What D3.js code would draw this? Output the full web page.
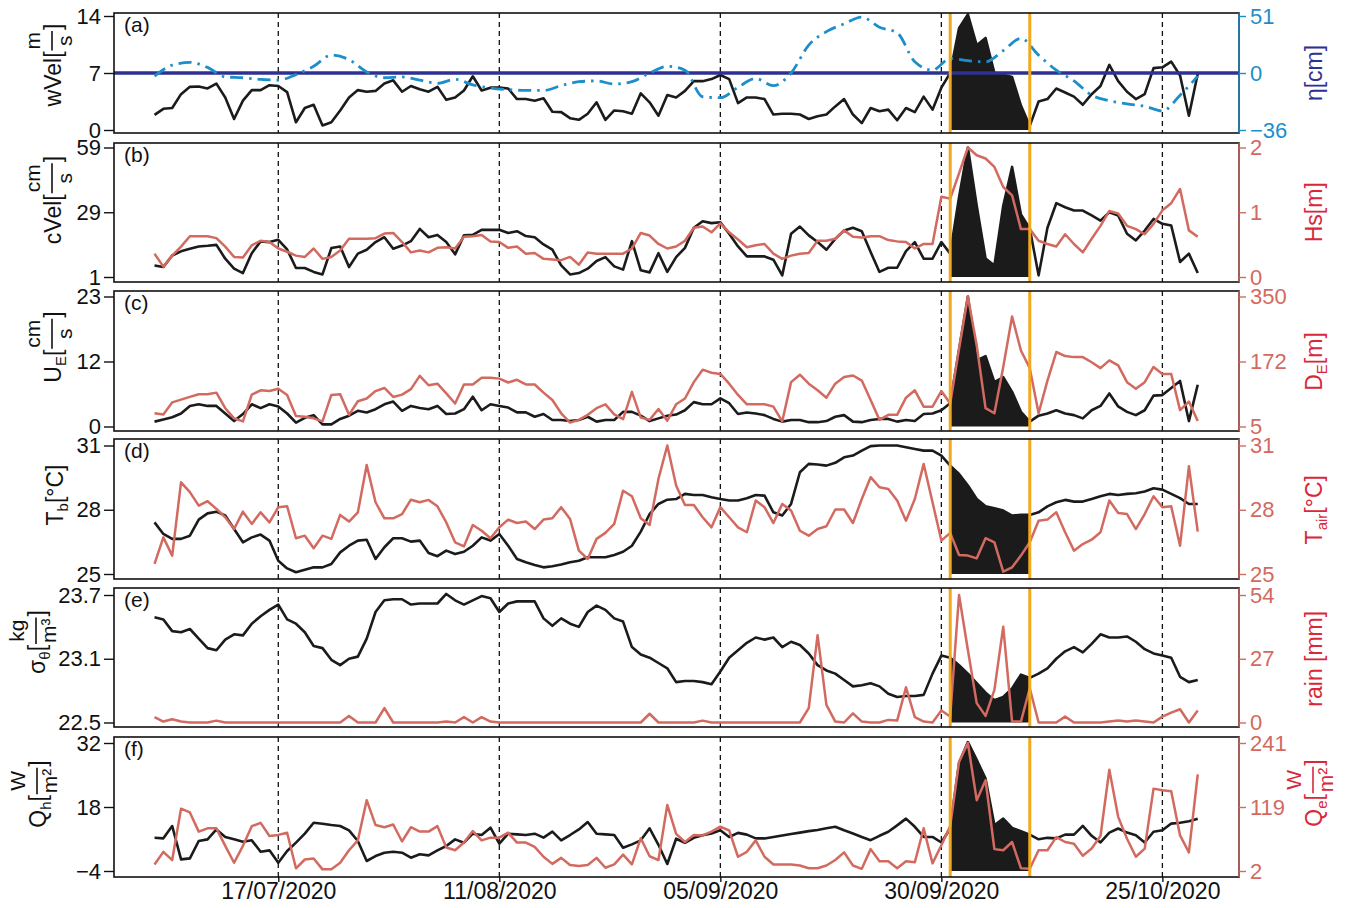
<!DOCTYPE html>
<html>
<head>
<meta charset="utf-8">
<title>Event time series</title>
<script src="https://cdn.jsdelivr.net/npm/d3@7"></script>
<style>
  body { margin: 0; background: #fff; }
  svg text { font-family: "Liberation Sans", Arial, Helvetica, sans-serif; }
</style>
</head>
<body>
<svg id="chart" width="1354" height="908"></svg>
<script>
// daily values 03/07/2020 .. 29/10/2020
const firstDay = new Date(Date.UTC(2020, 6, 3));
const days = d3.range(119).map(i => d3.utcDay.offset(firstDay, i));
// sea level read every second day
const etaDays = days.filter((d, i) => i % 2 === 0);

const tickDates = ["2020-07-17", "2020-08-11", "2020-09-05", "2020-09-30", "2020-10-25"].map(s => new Date(s + "T00:00:00Z"));
const eventDates = [new Date("2020-10-01T00:00:00Z"), new Date("2020-10-10T00:00:00Z")];

const wVel = [1.85, 2.6, 2.7, 4.4, 5.3, 5.35, 5.1, 5.7, 4.0, 1.35,
  3.6, 4.9, 4.9, 5.5, 5.4, 4.65, 0.95, 2.7, 3.1, 0.55,
  0.95, 2.4, 4.0, 4.9, 4.7, 4.8, 5.7, 6.1, 4.7, 5.4,
  5.0, 4.7, 5.3, 3.7, 4.0, 4.85, 6.6, 4.85, 5.2, 5.2,
  5.1, 3.8, 3.8, 3.6, 3.9, 2.25, 2.2, 1.45, 1.25, 2.0,
  3.4, 1.25, 2.4, 2.3, 2.0, 4.5, 3.4, 1.75, 4.3, 4.0,
  4.8, 6.0, 6.0, 6.25, 6.75, 6.25, 3.3, 4.0, 4.0, 3.8,
  1.9, 2.0, 2.0, 1.9, 1.35, 1.7, 1.9, 2.9, 3.8, 1.9,
  0.85, 2.7, 2.3, 2.5, 1.2, 2.7, 2.2, 4.1, 2.5, 5.2,
  7.0, 12.5, 14.2, 10.4, 11.3, 7.0, 6.8, 6.5, 3.0, 0.5,
  3.5, 3.8, 5.1, 4.6, 4.1, 3.1, 4.4, 5.4, 8.0, 6.0,
  4.7, 3.8, 4.4, 7.6, 7.7, 8.4, 6.7, 1.75, 6.9];
const eta = [-2, 7, 9.5, 5, -2.5, -3, -4, -4.5, -1, 6,
  16, 12, 1, -3, -2.5, -4.5, -6.5, -4, -7.5, -9.5,
  -10.5, -11, -11, -8, -5.5, -5, -7, -5.5, 0, 6,
  2.5, -15, -15.6, -9, -3.5, -8, 0, 25, 37, 44,
  50, 41, 36, 10, 2.5, 13, 11, 10, 20, 31,
  16, 2.5, -5, -14, -17.5, -19.5, -21, -24, -14, -2];
const cVel = [6.0, 5.3, 10.3, 12.1, 13.2, 14.2, 14.5, 14.9, 8.9, 4.6,
  2.7, 11.3, 16.4, 16.1, 17.1, 12.9, 4.9, 4.9, 3.2, 2.1,
  13.5, 14.2, 5.3, 11.1, 12.8, 16.1, 18.2, 13.2, 14.6, 16.5,
  21.8, 18.2, 19.2, 16.1, 10.8, 19.0, 19.2, 21.4, 21.4, 21.4,
  20.0, 20.8, 18.7, 18.2, 15.1, 12.8, 6.0, 2.1, 2.7, 4.6,
  7.9, 9.6, 5.6, 4.2, 16.5, 3.9, 3.0, 11.3, 3.2, 9.6,
  13.6, 22.3, 25.1, 24.3, 24.7, 19.7, 14.2, 9.9, 9.9, 9.9,
  8.5, 1.7, 19.7, 22.8, 19.0, 16.1, 12.8, 17.5, 21.1, 22.3,
  20.8, 11.8, 3.2, 5.0, 5.0, 12.2, 16.1, 8.9, 8.9, 16.1,
  11.1, 36, 59, 32, 9, 6, 32, 50, 28, 22,
  1.7, 22.3, 33.2, 31.3, 29.8, 29.8, 27.6, 25.4, 29, 27.6,
  19.7, 16.8, 21.1, 26.1, 24.0, 23.3, 7.5, 11.1, 2.7];
const hs = [0.36, 0.16, 0.33, 0.47, 0.63, 0.63, 0.63, 0.60, 0.47, 0.31,
  0.30, 0.49, 0.56, 0.54, 0.44, 0.39, 0.33, 0.31, 0.44, 0.28,
  0.31, 0.41, 0.59, 0.59, 0.59, 0.60, 0.67, 0.68, 0.54, 0.38,
  0.41, 0.38, 0.45, 0.46, 0.44, 0.62, 0.63, 0.65, 0.55, 0.54,
  0.45, 0.47, 0.36, 0.37, 0.28, 0.27, 0.26, 0.31, 0.19, 0.38,
  0.36, 0.36, 0.36, 0.36, 0.44, 0.68, 0.64, 0.51, 0.44, 0.47,
  0.56, 0.76, 0.78, 0.69, 0.83, 0.69, 0.58, 0.46, 0.49, 0.51,
  0.36, 0.28, 0.33, 0.36, 0.37, 0.56, 0.56, 0.59, 0.72, 0.62,
  0.61, 0.63, 0.63, 0.57, 0.55, 0.54, 0.44, 0.51, 0.51, 1.24,
  1.21, 1.60, 2.0, 1.88, 1.83, 1.70, 1.39, 1.26, 0.74, 0.74,
  0.56, 0.51, 0.47, 0.66, 0.51, 0.38, 0.59, 0.79, 1.02, 0.98,
  0.79, 0.74, 0.66, 0.82, 1.03, 1.14, 1.36, 0.72, 0.62];
const uE = [0.9, 1.3, 1.7, 2.4, 3.8, 4.1, 3.8, 3.8, 2.4, 1.0,
  2.3, 4.1, 3.4, 4.1, 3.7, 2.4, 0.7, 1.6, 2.1, 0.4,
  0.4, 1.4, 2.0, 2.9, 2.6, 3.2, 4.1, 4.6, 2.9, 3.8,
  3.4, 3.2, 3.8, 2.3, 2.4, 3.2, 5.5, 3.0, 4.1, 3.8,
  3.5, 2.6, 2.6, 1.8, 2.3, 1.2, 1.2, 1.0, 1.2, 1.8,
  0.9, 1.2, 1.2, 2.7, 2.7, 2.0, 1.0, 1.5, 2.0, 2.2,
  3.0, 4.5, 4.1, 4.1, 5.2, 4.3, 2.3, 2.6, 2.4, 2.1,
  1.4, 0.9, 1.2, 1.2, 0.8, 0.8, 1.0, 1.8, 2.1, 0.9,
  0.8, 1.2, 1.4, 1.4, 0.9, 1.2, 1.0, 2.3, 2.4, 3.0,
  4.3, 14, 23, 12.2, 12.9, 8.2, 9.1, 6.4, 2.7, 0.9,
  2.0, 2.4, 3.0, 2.4, 2.1, 1.5, 3.0, 3.8, 6.1, 3.7,
  2.7, 2.1, 3.0, 5.7, 5.8, 7.1, 8.4, 1.0, 7.7];
const dE = [39, 36, 67, 74, 81, 88, 88, 92, 52, 26,
  18, 87, 98, 96, 102, 86, 32, 30, 26, 18,
  86, 88, 35, 70, 77, 96, 104, 81, 87, 101,
  135, 111, 115, 90, 64, 113, 113, 130, 130, 128,
  118, 125, 113, 113, 92, 73, 39, 15, 22, 35,
  52, 62, 36, 24, 94, 28, 22, 50, 20, 62,
  77, 119, 151, 143, 140, 115, 86, 62, 62, 62,
  56, 18, 119, 138, 115, 98, 79, 115, 132, 136,
  123, 73, 22, 35, 35, 79, 98, 56, 56, 96,
  64, 207, 350, 216, 52, 39, 158, 295, 202, 155,
  39, 123, 198, 187, 184, 184, 170, 155, 175, 162,
  119, 102, 119, 158, 140, 140, 47, 69, 19];
const tB = [27.41, 26.87, 26.64, 26.64, 26.79, 27.54, 27.83, 27.91, 27.73, 27.10,
  26.48, 26.71, 26.84, 26.56, 25.62, 25.26, 25.08, 25.20, 25.31, 25.31,
  25.47, 26.01, 26.32, 26.56, 26.60, 25.70, 26.25, 26.67, 26.67, 26.51,
  26.56, 25.98, 25.83, 26.09, 25.93, 26.04, 26.32, 26.71, 26.56, 26.87,
  26.32, 25.70, 25.55, 25.42, 25.31, 25.36, 25.44, 25.55, 25.62, 25.78,
  25.78, 25.78, 25.89, 26.04, 26.32, 26.98, 27.80, 28.27, 28.47, 28.50,
  28.74, 28.69, 28.69, 28.58, 28.50, 28.43, 28.43, 28.54, 28.69, 28.66,
  27.88, 27.73, 28.27, 29.75, 30.14, 30.11, 30.06, 30.19, 30.45, 30.53,
  30.76, 30.97, 31.0, 31.0, 31.0, 30.92, 30.84, 30.76, 30.76, 30.53,
  30.06, 29.67, 29.13, 28.50, 28.16, 28.07, 27.96, 27.73, 27.76, 27.76,
  27.88, 28.16, 28.35, 28.46, 28.38, 28.38, 28.50, 28.63, 28.74, 28.69,
  28.74, 28.77, 28.85, 29.00, 28.94, 28.74, 28.54, 28.27, 28.27];
const tAir = [25.47, 26.71, 25.86, 29.28, 28.82, 28.19, 28.40, 28.04, 27.65, 27.10,
  27.91, 27.34, 27.88, 27.41, 28.12, 28.16, 26.67, 26.79, 26.20, 26.79,
  26.64, 27.76, 27.45, 27.88, 30.09, 28.35, 27.60, 27.60, 27.80, 28.47,
  28.35, 28.46, 28.16, 27.41, 26.48, 26.29, 27.29, 27.02, 26.67, 27.18,
  27.54, 27.38, 27.45, 27.10, 27.54, 27.60, 28.12, 27.57, 26.09, 25.70,
  26.64, 26.92, 27.34, 28.89, 28.63, 27.60, 27.29, 29.44, 31.0, 29.13,
  28.22, 28.22, 27.65, 27.18, 28.12, 27.65, 27.18, 26.95, 28.43, 28.12,
  27.38, 28.27, 27.96, 27.02, 26.79, 27.10, 27.23, 28.01, 28.01, 27.38,
  28.50, 29.52, 29.05, 28.97, 28.43, 27.49, 28.50, 30.14, 28.35, 26.56,
  26.92, 25.89, 25.86, 25.73, 26.67, 26.48, 25.11, 25.31, 25.86, 26.48,
  27.49, 27.54, 27.88, 26.95, 26.09, 26.40, 26.60, 26.95, 28.43, 27.85,
  27.80, 27.10, 27.80, 28.63, 28.12, 28.16, 26.32, 30.03, 26.98];
const sigma = [23.49, 23.47, 23.36, 23.35, 23.38, 23.29, 23.20, 23.18, 23.28, 23.33,
  23.32, 23.43, 23.50, 23.56, 23.61, 23.47, 23.43, 23.35, 23.22, 23.20,
  23.09, 23.04, 23.10, 23.12, 23.29, 23.54, 23.65, 23.66, 23.66, 23.61,
  23.62, 23.62, 23.62, 23.71, 23.65, 23.61, 23.65, 23.69, 23.67, 23.54,
  23.62, 23.64, 23.64, 23.64, 23.48, 23.41, 23.48, 23.43, 23.40, 23.54,
  23.60, 23.56, 23.48, 23.45, 23.21, 23.14, 23.11, 23.06, 23.01, 22.88,
  22.89, 22.89, 22.88, 22.86, 22.98, 23.11, 23.18, 23.25, 23.30, 23.28,
  23.30, 23.21, 23.26, 23.23, 23.15, 23.04, 22.99, 22.96, 22.90, 22.84,
  22.85, 22.87, 22.84, 22.77, 22.74, 22.75, 22.75, 22.76, 22.96, 23.13,
  23.11, 23.04, 22.96, 22.87, 22.78, 22.71, 22.74, 22.82, 22.95, 22.92,
  22.96, 23.01, 23.10, 23.17, 23.21, 23.16, 23.24, 23.33, 23.30, 23.30,
  23.31, 23.26, 23.19, 23.15, 23.13, 23.11, 22.93, 22.88, 22.90];
const rain = [2.3, 0.4, 1.4, 0.4, 0, 0, 0, 0.8, 0, 0,
  0, 0, 0, 0, 0, 0, 0, 0, 0, 0,
  0, 0, 2.8, 0, 0, 0, 6.1, 0, 0, 0,
  0, 0, 0, 0.4, 0, 2.3, 0, 2.3, 0.4, 0,
  0, 0, 0, 0, 0, 0, 0, 0, 0, 0,
  0, 0, 0, 0, 0, 0, 3.7, 0, 0, 0,
  0, 0, 0.8, 0, 0, 0, 0, 0, 0, 0,
  0, 0, 0, 0, 6.1, 37, 7.5, 0.4, 0, 3.9,
  0.4, 0, 0, 1.1, 0.8, 14.9, 2.3, 0.4, 0, 5.1,
  2.5, 54, 30.7, 8.2, 2.8, 13.8, 40.6, 0.4, 0.4, 14.5,
  0, 0, 0, 2.5, 0, 0, 0, 0, 0.4, 0.8,
  0.4, 0.8, 0.4, 0, 2.5, 4.2, 5.6, 0, 5.1];
const qH = [7.45, 7.23, 11.46, 0.0, 0.35, 6.31, 6.88, 10.3, 7.68, 6.88,
  6.08, 6.54, 2.64, 3.10, -1.14, 2.87, 5.74, 8.83, 12.6, 12.27,
  11.8, 11.46, 9.97, 6.31, -0.56, 1.15, 2.3, 2.64, 2.3, 0.58,
  1.73, 1.38, 3.1, 4.59, 6.88, 5.74, 8.83, 8.37, 10.9, 5.39,
  8.83, 8.6, 8.37, 8.83, 7.45, 9.52, 6.54, 8.37, 10.3, 12.84,
  8.83, 8.6, 8.37, 4.02, 5.16, 6.54, 10.66, 5.0, -1.6, 7.1,
  5.7, 7.4, 8.3, 8.9, 10.0, 7.7, 9.1, 8.5, 7.2, 7.2,
  7.7, 8.2, 8.7, 9.2, 9.7, 10.1, 10.7, 11.2, 10.0, 8.9,
  7.7, 6.6, 8.1, 9.5, 11.7, 14.0, 11.2, 7.7, 7.7, 5.8,
  10.6, 27.6, 32.2, 28.3, 24.2, 11.7, 14.0, 10.8, 9.7, 8.5,
  6.9, 7.4, 7.2, 8.5, 8.5, 11.5, 8.1, 5.8, 9.2, 10.6,
  9.2, 8.3, 5.8, 9.5, 10.0, 12.3, 12.6, 13.1, 14.0];
const qE = [14, 37, 22, 116, 109, 74, 80, 80, 48, 17,
  48, 84, 90, 66, 68, 72, 7, 23, 25, 5,
  5, 17, 40, 58, 132, 86, 82, 87, 56, 82,
  74, 74, 84, 45, 40, 54, 75, 58, 63, 63,
  72, 54, 54, 46, 28, 15, 26, 13, 11, 13,
  26, 8, 14, 32, 14, 62, 29, 22, 123, 70,
  55, 68, 67, 74, 83, 76, 28, 37, 58, 28,
  14, 14, 14, 12, 7, 7, 12, 22, 36, 12,
  6, 42, 20, 20, 7, 20, 18, 80, 16, 49,
  84, 205, 241, 132, 170, 42, 40, 55, 7, 6,
  40, 40, 64, 55, 52, 30, 43, 66, 190, 101,
  61, 28, 43, 154, 151, 149, 67, 36, 181];

// tick values: bottom, middle, top of every axis
const wVelTicks = [0, 7, 14], etaTicks = [-36, 0, 51];
const cVelTicks = [1, 29, 59], hsTicks = [0, 1, 2];
const uETicks = [0, 12, 23], dETicks = [5, 172, 350];
const tBTicks = [25, 28, 31], tAirTicks = [25, 28, 31];
const sigmaTicks = [22.5, 23.1, 23.7], rainTicks = [0, 27, 54];
const qHTicks = [-4, 18, 32], qETicks = [2, 119, 241];

const BLACK = "#1b1b1b", SALMON = "#d26a60", RED = "#d8283a",
      CYAN = "#1e8ecb", NAVY = "#2e3192", ORANGE = "#f2a81d";

const svg = d3.select("#chart");
const X0 = 114, X1 = 1239;
const x = d3.scaleUtc()
  .domain([new Date(Date.UTC(2020, 5, 28, 10)), new Date(Date.UTC(2020, 10, 2, 16))])
  .range([X0, X1]);

const panels = [
  {tag: "(a)", top: 13, bottom: 133, y0: 130, y1: 16,
   left: wVel, lt: wVelTicks, right: eta, rDays: etaDays, rt: etaTicks, rColor: CYAN,
   lTitle: [{t: "wVel["}, {num: "m", den: "s"}, {t: "]"}], lx: 61, ly: 65,
   rTitle: [{t: "η[cm]"}], rTitleColor: NAVY},
  {tag: "(b)", top: 143, bottom: 282, y0: 277, y1: 147.5,
   left: cVel, lt: cVelTicks, right: hs, rt: hsTicks, rColor: SALMON,
   lTitle: [{t: "cVel["}, {num: "cm", den: "s"}, {t: "]"}], lx: 61, ly: 200,
   rTitle: [{t: "Hs[m]"}], rTitleColor: RED},
  {tag: "(c)", top: 291, bottom: 431, y0: 426.5, y1: 296.5,
   left: uE, lt: uETicks, right: dE, rt: dETicks, rColor: SALMON,
   lTitle: [{t: "U"}, {sub: "E"}, {t: "["}, {num: "cm", den: "s"}, {t: "]"}], lx: 61, ly: 347,
   rTitle: [{t: "D"}, {sub: "E"}, {t: "[m]"}], rTitleColor: RED},
  {tag: "(d)", top: 439, bottom: 579, y0: 574, y1: 445.5,
   left: tB, lt: tBTicks, right: tAir, rt: tAirTicks, rColor: SALMON,
   lTitle: [{t: "T"}, {sub: "b"}, {t: "[°C]"}], lx: 63, ly: 495,
   rTitle: [{t: "T"}, {sub: "air"}, {t: "[°C]"}], rTitleColor: RED},
  {tag: "(e)", top: 588, bottom: 727, y0: 722.5, y1: 595,
   left: sigma, lt: sigmaTicks, right: rain, rt: rainTicks, rColor: SALMON,
   lTitle: [{t: "σ"}, {sub: "θ"}, {t: "["}, {num: "kg", den: "m³"}, {t: "]"}], lx: 45, ly: 642,
   rTitle: [{t: "rain [mm]"}], rTitleColor: RED},
  {tag: "(f)", top: 737, bottom: 877, y0: 871, y1: 743,
   left: qH, lt: qHTicks, right: qE, rt: qETicks, rColor: SALMON,
   lTitle: [{t: "Q"}, {sub: "h"}, {t: "["}, {num: "W", den: "m²"}, {t: "]"}], lx: 46, ly: 794,
   rTitle: [{t: "Q"}, {sub: "e"}, {t: "["}, {num: "W", den: "m²"}, {t: "]"}], rTitleColor: RED}
];

function axisTitle(x0, yc, parts, color) {
  const fs = 23;
  const g = svg.append("g").attr("transform", `translate(${x0},${yc}) rotate(-90)`);
  const inner = g.append("g");
  let cx = 0;
  parts.forEach(p => {
    if (p.num !== undefined) {
      const n = inner.append("text").attr("font-size", 21).attr("fill", color).attr("y", -21).text(p.num);
      const dn = inner.append("text").attr("font-size", 21).attr("fill", color).attr("y", 11).text(p.den);
      const wn = n.node().getComputedTextLength(), wd = dn.node().getComputedTextLength();
      const w = Math.max(wn, wd) + 4;
      n.attr("x", cx + (w - wn) / 2);
      dn.attr("x", cx + (w - wd) / 2);
      inner.append("line").attr("x1", cx + 1).attr("x2", cx + w - 1)
        .attr("y1", -9).attr("y2", -9).attr("stroke", color).attr("stroke-width", 1.6);
      cx += w;
    } else {
      const isSub = p.sub !== undefined;
      const t = inner.append("text").attr("x", cx).attr("y", isSub ? 5 : 0)
        .attr("font-size", isSub ? 15 : fs).attr("fill", color).text(isSub ? p.sub : p.t);
      cx += t.node().getComputedTextLength();
    }
  });
  inner.attr("transform", `translate(${-cx / 2},0)`);
}

const fmt = d3.format("");

panels.forEach((p, k) => {
  const g = svg.append("g");
  const mid = (p.y0 + p.y1) / 2;
  const yl = d3.scaleLinear().domain(p.lt).range([p.y0, mid, p.y1]);
  const yr = d3.scaleLinear().domain(p.rt).range([p.y0, mid, p.y1]);

  // date guide lines
  g.selectAll("line.guide").data(tickDates).join("line")
    .attr("x1", d => x(d)).attr("x2", d => x(d))
    .attr("y1", p.top).attr("y2", p.bottom)
    .attr("stroke", "#111").attr("stroke-width", 1.3).attr("stroke-dasharray", "5,4");

  const leftPts = days.map((d, i) => ({d, v: p.left[i]}));
  const rDays = p.rDays || days;
  const rightPts = rDays.map((d, i) => ({d, v: p.right[i]}));

  // event window filled under the black series
  const ev = leftPts.filter(o => o.d >= eventDates[0] && o.d <= eventDates[1]);
  g.append("path").datum(ev)
    .attr("d", d3.area().x(o => x(o.d)).y0(p.y0).y1(o => yl(o.v)))
    .attr("fill", BLACK);

  g.append("path").datum(leftPts)
    .attr("d", d3.line().x(o => x(o.d)).y(o => yl(o.v)))
    .attr("fill", "none").attr("stroke", BLACK).attr("stroke-width", 2.6)
    .attr("stroke-linejoin", "round");

  if (k === 0) {
    g.append("line").attr("x1", X0).attr("x2", X1)
      .attr("y1", yr(0)).attr("y2", yr(0))
      .attr("stroke", NAVY).attr("stroke-width", 3.5);
    g.append("path").datum(rightPts)
      .attr("d", d3.line().curve(d3.curveMonotoneX).x(o => x(o.d)).y(o => yr(o.v)))
      .attr("fill", "none").attr("stroke", CYAN).attr("stroke-width", 2.8)
      .attr("stroke-dasharray", "13,6,2.5,6");
  } else {
    g.append("path").datum(rightPts)
      .attr("d", d3.line().x(o => x(o.d)).y(o => yr(o.v)))
      .attr("fill", "none").attr("stroke", SALMON).attr("stroke-width", 2.5)
      .attr("stroke-linejoin", "round");
  }

  // event bounds
  g.selectAll("line.event").data(eventDates).join("line")
    .attr("x1", d => x(d)).attr("x2", d => x(d))
    .attr("y1", p.top).attr("y2", p.bottom)
    .attr("stroke", ORANGE).attr("stroke-width", 3);

  g.append("rect").attr("x", X0).attr("y", p.top)
    .attr("width", X1 - X0).attr("height", p.bottom - p.top)
    .attr("fill", "none").attr("stroke", "#111").attr("stroke-width", 1.6);

  // left axis
  const la = g.append("g").attr("transform", `translate(${X0},0)`)
    .call(d3.axisLeft(yl).tickValues(p.lt).tickFormat(fmt).tickSize(10).tickPadding(3).tickSizeOuter(0));
  la.select(".domain").remove();
  la.selectAll("line").attr("stroke", "#111").attr("stroke-width", 1.4);
  la.selectAll("text").attr("font-size", 22).attr("fill", "#111")
    .attr("font-family", "Liberation Sans, Arial, sans-serif");

  // right axis
  const ra = g.append("g").attr("transform", `translate(${X1},0)`)
    .call(d3.axisRight(yr).tickValues(p.rt).tickFormat(fmt).tickSize(7).tickPadding(4).tickSizeOuter(0));
  ra.select(".domain").attr("stroke", p.rColor).attr("stroke-width", 1.4)
    .attr("d", `M0,${p.top}V${p.bottom}`);
  ra.selectAll("line").attr("stroke", p.rColor).attr("stroke-width", 1.4);
  ra.selectAll("text").attr("font-size", 22).attr("fill", p.rColor)
    .attr("font-family", "Liberation Sans, Arial, sans-serif");

  g.append("text").attr("x", X0 + 10).attr("y", p.top + 19)
    .attr("font-size", 21).attr("fill", "#111").text(p.tag);

  axisTitle(p.lx, p.ly, p.lTitle, "#111");
  axisTitle(1322, (p.y0 + p.y1) / 2 - (k === 5 ? 14 : 0), p.rTitle, p.rTitleColor);

  if (k === 5) {
    const xa = g.append("g").attr("transform", `translate(0,${p.bottom})`)
      .call(d3.axisBottom(x).tickValues(tickDates).tickFormat(d3.utcFormat("%d/%m/%Y"))
        .tickSize(5).tickPadding(1).tickSizeOuter(0));
    xa.select(".domain").remove();
    xa.selectAll("line").attr("stroke", "#111").attr("stroke-width", 1.4);
    xa.selectAll("text").attr("font-size", 23).attr("fill", "#111")
      .attr("font-family", "Liberation Sans, Arial, sans-serif");
  }
});
</script>
</body>
</html>
